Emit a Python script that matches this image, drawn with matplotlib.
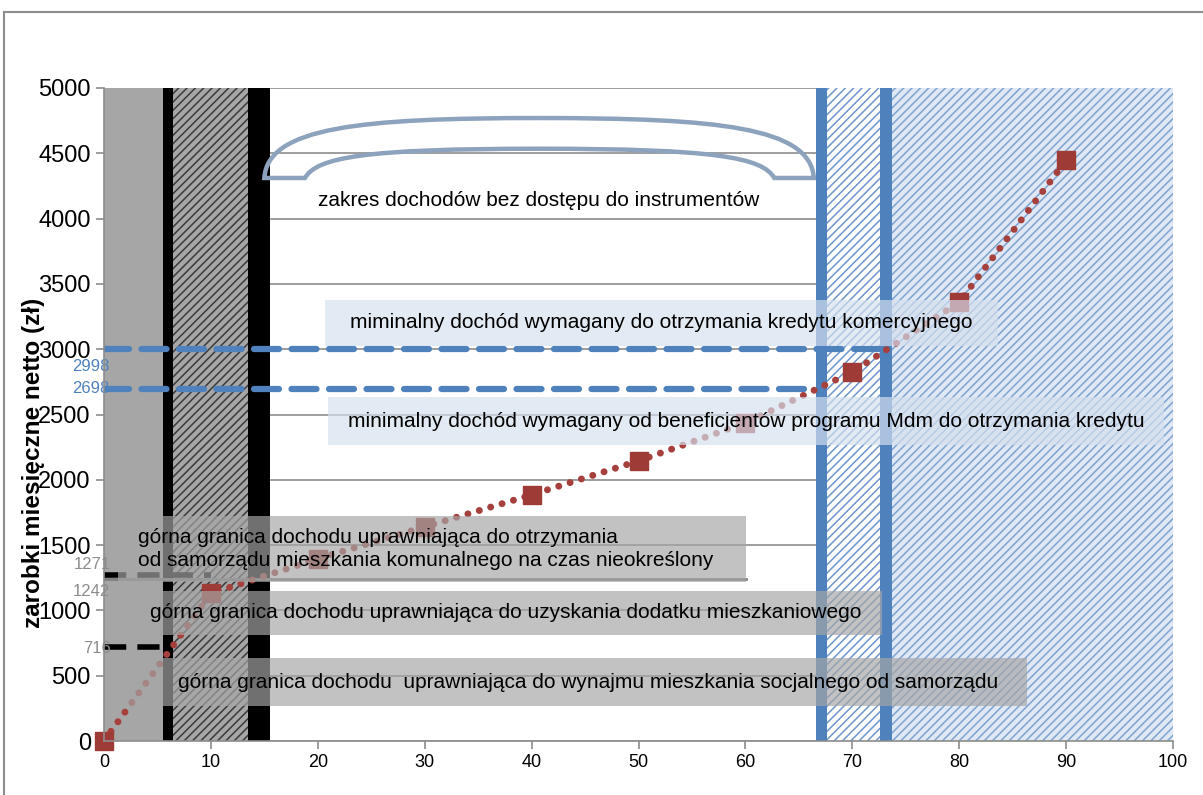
import matplotlib.pyplot as plt
from matplotlib.path import Path
from matplotlib.patches import PathPatch, Rectangle
from matplotlib.lines import Line2D

plt.rcParams['font.family'] = ['Liberation Sans', 'DejaVu Sans']
plt.rcParams['hatch.linewidth'] = 1.1

# dane
percentyl = [0, 10, 20, 30, 40, 50, 60, 70, 80, 90]
zarobki = [0, 1130, 1395, 1640, 1885, 2145, 2435, 2825, 3360, 4445]

prog_komercyjny = 2998
prog_mdm = 2698
prog_komunalny = 1271
prog_dodatek = 1242
prog_socjalny = 716

y_ticks = [0, 500, 1000, 1500, 2000, 2500, 3000, 3500, 4000, 4500, 5000]
x_ticks = [0, 10, 20, 30, 40, 50, 60, 70, 80, 90, 100]

# pasy pionowe: (od, do, kolor, kreskowanie, kolor kreskowania)
pasy = [
    (0, 5.5, '#a6a6a6', None, None),
    (5.5, 6.5, 'black', None, None),
    (6.5, 13.5, '#a6a6a6', '////', '#3a3a3a'),
    (13.5, 15.5, 'black', None, None),
    (66.6, 67.6, '#4f81bd', None, None),
    (67.6, 72.6, 'white', '////', '#6d96cb'),
    (72.6, 73.7, '#4f81bd', None, None),
    (73.7, 100, '#dfe8f4', '////', '#7fa3d2'),
]

# ramki z opisami: (x0, x1, y0, y1, kolor, tekst, x tekstu)
opisy = [
    (20.7, 83.6, 3025, 3377, '#d5e0ee',
     'miminalny dochód wymagany do otrzymania kredytu komercyjnego', 23.0),
    (21.0, 99.2, 2266, 2634, '#d5e0ee',
     'minimalny dochód wymagany od beneficjentów programu Mdm do otrzymania kredytu', 22.8),
    (1.3, 60.1, 1215, 1723, '#a6a6a6',
     'górna granica dochodu uprawniająca do otrzymania\nod samorządu mieszkania komunalnego na czas nieokreślony', 3.2),
    (1.3, 72.8, 815, 1150, '#a6a6a6',
     'górna granica dochodu uprawniająca do uzyskania dodatku mieszkaniowego', 4.3),
    (1.3, 86.3, 268, 635, '#a6a6a6',
     'górna granica dochodu  uprawniająca do wynajmu mieszkania socjalnego od samorządu', 6.9),
]

fig = plt.figure(figsize=(12.03, 7.95), dpi=100)
ax = fig.add_axes([104 / 1203, 54 / 795, 1069 / 1203, 653 / 795])

for y in y_ticks:
    ax.axhline(y, color='#8c8c8c', lw=1.2, zorder=0)

for x0, x1, kolor, hatch, hcolor in pasy:
    if hatch:
        ax.axvspan(x0, x1, facecolor=kolor, edgecolor=hcolor, hatch=hatch, lw=0, zorder=1)
    else:
        ax.axvspan(x0, x1, color=kolor, lw=0, zorder=1)

# linie progowe
ax.plot([0, 72.6], [prog_komercyjny] * 2, color='#4f81bd', lw=4.5,
        dashes=(4, 2), dash_capstyle='round', zorder=3)
ax.plot([0, 65.8], [prog_mdm] * 2, color='#4f81bd', lw=4.5,
        dashes=(4, 2), dash_capstyle='round', zorder=3)
ax.plot([0, 10], [prog_komunalny] * 2, color='black', lw=4,
        dashes=(4, 2), zorder=3)
ax.plot([0, 60.1], [prog_dodatek] * 2, color='#7f7f7f', lw=2, zorder=3)
ax.plot([0, 6.5], [prog_socjalny] * 2, color='black', lw=4,
        dashes=(4, 2), zorder=3)

# seria
ax.plot(percentyl, zarobki, color='#a5403c', lw=5, linestyle=(0, (0.01, 1.7)),
        dash_capstyle='round', marker='s', markersize=13,
        markerfacecolor='#9e3b37', markeredgecolor='#9e3b37', zorder=4, clip_on=False)

for x0, x1, y0, y1, kolor, tekst, xt in opisy:
    ax.add_patch(Rectangle((x0, y0), x1 - x0, y1 - y0, facecolor=kolor,
                           edgecolor='none', alpha=0.68, zorder=5))
    ax.text(xt, (y0 + y1) / 2, tekst, fontsize=15, va='center', ha='left',
            linespacing=1.3, zorder=6)

# klamra nad zakresem bez dostępu
verts = [
    (15.0, 4311),
    (15.3, 4700), (24.0, 4770), (40.7, 4770),
    (57.4, 4770), (66.1, 4700), (66.4, 4311),
    (62.7, 4311),
    (61.6, 4470), (57.0, 4535), (40.7, 4535),
    (24.4, 4535), (19.9, 4470), (18.8, 4311),
    (15.0, 4311),
]
codes = [Path.MOVETO] + [Path.CURVE4] * 6 + [Path.LINETO] + [Path.CURVE4] * 6 + [Path.CLOSEPOLY]
ax.add_patch(PathPatch(Path(verts, codes), facecolor='none', edgecolor='#8da2bd',
                       lw=3.2, zorder=6))
ax.text(40.7, 4142, 'zakres dochodów bez dostępu do instrumentów', fontsize=15,
        ha='center', va='center', zorder=6)

# etykiety progów przy osi
ax.text(0.5, 2864, str(prog_komercyjny), color='#4f81bd', fontsize=12, ha='right', va='center', zorder=7)
ax.text(0.5, prog_mdm, str(prog_mdm), color='#4f81bd', fontsize=12, ha='right', va='center', zorder=7)
ax.text(0.6, 1348, str(prog_komunalny), color='#8c8c8c', fontsize=12, ha='right', va='center', zorder=7)
ax.text(0.6, 1141, str(prog_dodatek), color='#8c8c8c', fontsize=12, ha='right', va='center', zorder=7)
ax.text(0.6, 712, str(prog_socjalny), color='#8c8c8c', fontsize=12, ha='right', va='center', zorder=7)

ax.set_xlim(0, 100)
ax.set_ylim(0, 5000)
ax.set_xticks(x_ticks)
ax.set_yticks(y_ticks)
ax.tick_params(axis='y', labelsize=17, length=6, color='#8c8c8c', width=1.2)
ax.tick_params(axis='x', labelsize=13, length=6, color='#8c8c8c', width=1.2)
for s in ['top', 'right']:
    ax.spines[s].set_visible(False)
for s in ['left', 'bottom']:
    ax.spines[s].set_color('#8c8c8c')
    ax.spines[s].set_linewidth(1.2)
    ax.spines[s].set_zorder(8)

fig.text(34 / 1203, 0.418, 'zarobki miesięczne netto (zł)', rotation=90, fontsize=17.5,
         fontweight='bold', ha='center', va='center', zorder=9)

# ramka wykresu
fig.add_artist(Line2D([4 / 1203, 4 / 1203], [0, 1 - 12 / 795], color='#8c8c8c', lw=1.5))
fig.add_artist(Line2D([4 / 1203, 1], [1 - 12 / 795, 1 - 12 / 795], color='#8c8c8c', lw=1.5))

fig.savefig('out.png', dpi=100)
